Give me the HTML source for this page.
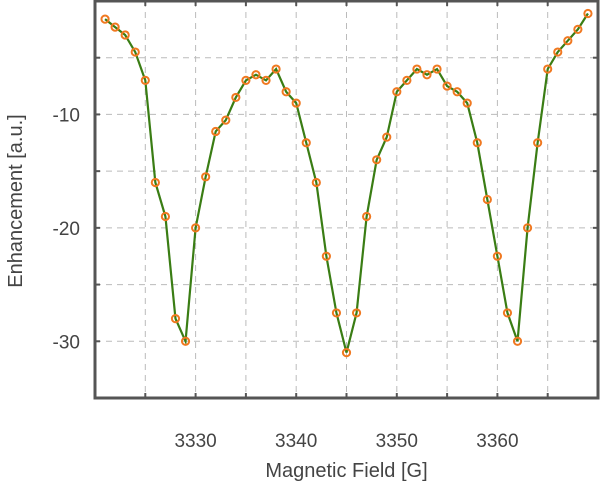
<!DOCTYPE html>
<html><head><meta charset="utf-8"><style>
body{margin:0;background:#fff;}
svg text{font-family:"Liberation Sans",sans-serif;fill:#444;}
</style></head><body>
<svg id="chart" width="600" height="495"></svg>
<script>
const fields=[3321,3322,3323,3324,3325,3326,3327,3328,3329,3330,3331,3332,3333,3334,3335,3336,3337,3338,3339,3340,3341,3342,3343,3344,3345,3346,3347,3348,3349,3350,3351,3352,3353,3354,3355,3356,3357,3358,3359,3360,3361,3362,3363,3364,3365,3366,3367,3368,3369];
const enhancement=[-1.6,-2.3,-3.0,-4.5,-7,-16,-19,-28,-30,-20,-15.5,-11.5,-10.5,-8.5,-7,-6.5,-7,-6,-8,-9,-12.5,-16,-22.5,-27.5,-31,-27.5,-19,-14,-12,-8,-7,-6,-6.5,-6,-7.5,-8,-9,-12.5,-17.5,-22.5,-27.5,-30,-20,-12.5,-6,-4.5,-3.5,-2.5,-1.1];
const xTicks=[3330,3340,3350,3360];
const yTicks=[-10,-20,-30];
const xGrid=[3325,3330,3335,3340,3345,3350,3355,3360,3365];
const yGrid=[-5,-10,-15,-20,-25,-30];
const L=95,R=598,T=1,B=398,xMin=3320,xMax=3370,yMin=-35,yMax=0;
const sx=v=>L+(v-xMin)/(xMax-xMin)*(R-L);
const sy=v=>T+(yMax-v)/(yMax-yMin)*(B-T);
const svg=document.getElementById('chart');const NS='http://www.w3.org/2000/svg';
function mk(t,a,p){const e=document.createElementNS(NS,t);for(const k in a)e.setAttribute(k,a[k]);(p||svg).appendChild(e);return e;}
xGrid.forEach(v=>{const g=mk('line',{x1:sx(v),x2:sx(v),y1:T,y2:B,stroke:'#bbb','stroke-dasharray':'6,5','stroke-width':1});

});
yGrid.forEach(v=>{const g=mk('line',{x1:L,x2:R,y1:sy(v),y2:sy(v),stroke:'#bbb','stroke-dasharray':'6,5','stroke-width':1});

});
xGrid.forEach(v=>{[[B,B-5],[T,T+5]].forEach(p=>{const t=mk('line',{x1:sx(v),x2:sx(v),y1:p[0],y2:p[1],stroke:'#555','stroke-width':2});

});});
yGrid.forEach(v=>{[[L,L+5],[R,R-5]].forEach(p=>{const t=mk('line',{x1:p[0],x2:p[1],y1:sy(v),y2:sy(v),stroke:'#555','stroke-width':2});

});});
xTicks.forEach(v=>{const t=mk('text',{x:sx(v),y:447,'text-anchor':'middle','font-size':19});t.textContent=v;

});
yTicks.forEach(v=>{const t=mk('text',{x:L-15,y:sy(v)+7,'text-anchor':'end','font-size':19});t.textContent=v;

});
const xl=mk('text',{x:(L+R)/2,y:477,'text-anchor':'middle','font-size':20});xl.textContent='Magnetic Field [G]';


const yl=mk('text',{x:0,y:0,'text-anchor':'middle','font-size':20,transform:'translate(22,'+(B/2+2)+') rotate(-90)'});yl.textContent='Enhancement [a.u.]';


const line=mk('polyline',{points:fields.map((f,i)=>sx(f)+','+sy(enhancement[i])).join(' '),fill:'none',stroke:'#3a7d14','stroke-width':2.2});


fields.forEach((f,i)=>{const c=mk('circle',{cx:sx(f),cy:sy(enhancement[i]),r:3.6,fill:'none',stroke:'#f07820','stroke-width':2});

});
const fr=mk('rect',{x:L,y:T,width:R-L,height:B-T,fill:'none',stroke:'#555','stroke-width':3});


</script>
</body></html>
